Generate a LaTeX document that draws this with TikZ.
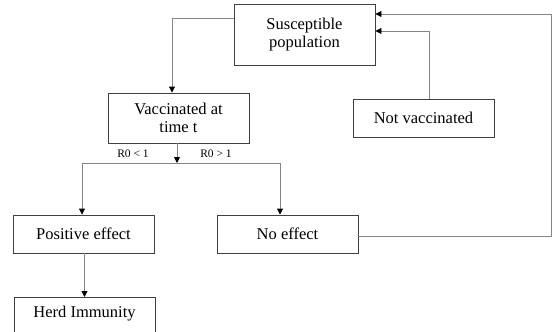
\documentclass[tikz,border=0pt]{standalone}
\usepackage{fontspec}
\setmainfont{Liberation Serif}
\usetikzlibrary{arrows.meta,calc}
\definecolor{boxline}{HTML}{404040}
\definecolor{conline}{HTML}{858585}
\tikzset{
  stepbox/.style={draw=boxline, line width=0.9pt, minimum width=141pt, inner sep=0pt, align=center, font=\fontsize{16.5}{18.5}\selectfont},
  conn/.style={draw=conline, line width=0.9pt},
  arr/.style={conn, -{Triangle[length=6pt,width=6pt,fill=black,color=black]}},
  lbl/.style={font=\fontsize{11.5}{13}\selectfont, inner sep=0pt}
}
\begin{document}
\begin{tikzpicture}[x=1pt,y=-1pt]
\path[fill=white] (0,0) rectangle (552,332);
\clip (0,0) rectangle (552,332);
\node[stepbox, minimum height=61pt] (sus) at (304.5,34.5) {Susceptible\\population};
\node[stepbox, minimum height=50pt] (vac) at (178.5,118) {Vaccinated at\\time t};
\node[stepbox, minimum height=38pt] (notv) at (423.5,118) {Not vaccinated};
\node[stepbox, minimum height=38pt] (pos) at (83.5,234) {Positive effect};
\node[stepbox, minimum height=38pt] (noeff) at (287.5,234) {No effect};
\node[stepbox, anchor=north, text height=16pt, text depth=40pt, inner ysep=4pt] (herd) at (84.5,297) {Herd Immunity};
\coordinate (split) at (177,163);
\coordinate (bl) at (82,163);
\coordinate (br) at (280,163);
\coordinate (tl) at (172,18);
\coordinate (fbtop) at (551,14);
\coordinate (fbbot) at (551,236);
\coordinate (nvtop) at (429,31);
\draw[arr] (sus.west |- tl) -- (tl) -- (tl |- vac.north);
\draw[arr] (split |- vac.south) -- (split);
\draw[conn] (bl) -- (br);
\draw[arr] (bl) -- (bl |- pos.north);
\draw[arr] (br) -- (br |- noeff.north);
\draw[arr] (pos.south -| herd.north) -- (herd.north);
\draw[arr] (nvtop |- notv.north) -- (nvtop) -- (nvtop -| sus.east);
\draw[arr] (noeff.east |- fbbot) -- (fbbot) -- (fbtop) -- (fbtop -| sus.east);
\node[lbl] (r1) at (133,154) {R0 < 1};
\node[lbl] (r2) at (216,154) {R0 > 1};
\end{tikzpicture}
\end{document}
